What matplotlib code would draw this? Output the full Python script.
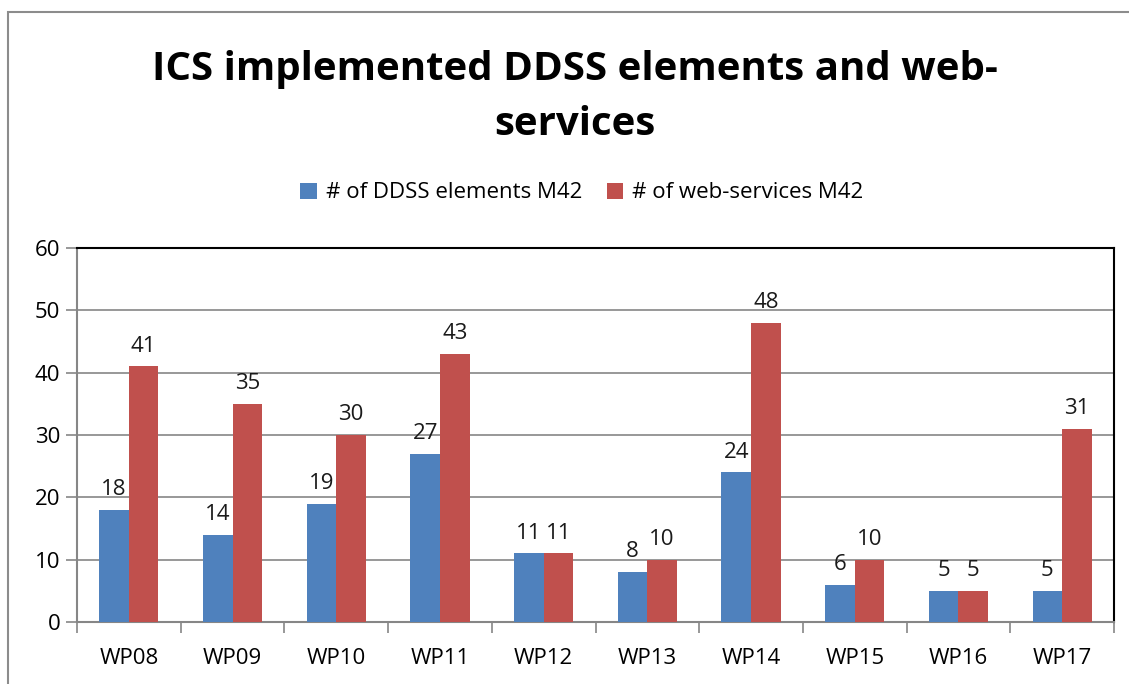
import matplotlib.pyplot as plt
import numpy as np
from matplotlib.patches import Rectangle

categories = ["WP08", "WP09", "WP10", "WP11", "WP12", "WP13", "WP14", "WP15", "WP16", "WP17"]
ddss_elements = [18, 14, 19, 27, 11, 8, 24, 6, 5, 5]
web_services = [41, 35, 30, 43, 11, 10, 48, 10, 5, 31]

BLUE = "#4F81BD"
RED = "#C0504D"
GRID = "#868686"

plt.rcParams["font.family"] = ["Open Sans", "DejaVu Sans"]

W, H = 1129, 684
fig = plt.figure(figsize=(W / 100, H / 100), dpi=100)

# chart-area border (left/top visible, right/bottom cropped off)
fig.patches.append(Rectangle((8 / W, -0.1), 1.2, 1 - 12 / H + 0.1, transform=fig.transFigure,
                             fill=False, edgecolor="#8c8c8c", linewidth=1.5))

ax = fig.add_axes([77 / W, 1 - 622 / H, (1114 - 77) / W, (622 - 248) / H])

x = np.arange(len(categories))
bw = 0.285
b1 = ax.bar(x - bw / 2, ddss_elements, bw, color=BLUE, label="# of DDSS elements M42", zorder=3)
b2 = ax.bar(x + bw / 2, web_services, bw, color=RED, label="# of web-services M42", zorder=3)

for bars in (b1, b2):
    for rect in bars:
        ax.annotate(f"{int(rect.get_height())}",
                    (rect.get_x() + rect.get_width() / 2, rect.get_height()),
                    xytext=(0, 7), textcoords="offset points", ha="center", va="bottom",
                    fontsize=16, color="#1a1a1a")

ax.set_xlim(-0.5, len(categories) - 0.5)
ax.set_ylim(0, 60)
ax.set_yticks(range(0, 61, 10))
ax.yaxis.grid(True, color=GRID, linewidth=1.2, zorder=0)
ax.set_axisbelow(True)

ax.set_xticks(x)
ax.set_xticklabels(categories)
ax.set_xticks(np.arange(-0.5, len(categories)), minor=True)
ax.tick_params(axis="x", which="major", length=0, pad=19, labelsize=16)
ax.tick_params(axis="x", which="minor", length=8, color=GRID, width=1.2, direction="out")
ax.tick_params(axis="y", length=8, color=GRID, width=1.2, labelsize=16, pad=4)

for side in ("left", "bottom"):
    ax.spines[side].set_color(GRID)
    ax.spines[side].set_linewidth(1.5)
for side in ("top", "right"):
    ax.spines[side].set_color("black")
    ax.spines[side].set_linewidth(1.5)

fig.text(575 / W, 1 - 97 / H, "ICS implemented DDSS elements and web-\nservices",
         ha="center", va="center", fontsize=29, fontweight="bold", linespacing=1.55)

fig.legend(handles=[b1, b2], loc="center", bbox_to_anchor=(582 / W, 1 - 193 / H),
           ncol=2, frameon=False, fontsize=16, handlelength=0.75, handleheight=0.75,
           columnspacing=1.1, handletextpad=0.4)

fig.savefig("out.png", dpi=100)
